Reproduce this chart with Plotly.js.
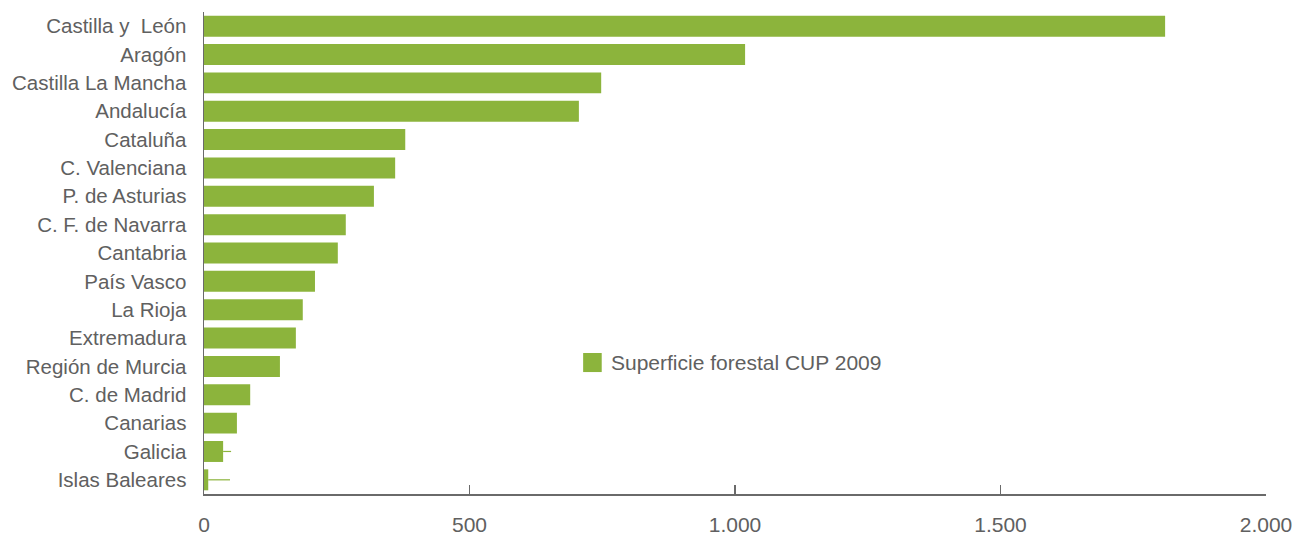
<!DOCTYPE html>
<html>
<head>
<meta charset="utf-8">
<script src="https://cdn.plot.ly/plotly-3.0.1.min.js"></script>
<style>html,body{margin:0;padding:0;background:#fff;}#chart{width:1309px;height:535px;}</style>
</head>
<body>
<div id="chart"></div>
<script>
const regions = ["Castilla y  León","Aragón","Castilla La Mancha","Andalucía","Cataluña","C. Valenciana","P. de Asturias","C. F. de Navarra","Cantabria","País Vasco","La Rioja","Extremadura","Región de Murcia","C. de Madrid","Canarias","Galicia","Islas Baleares"];
const superficie = [1810,1019,748,706,379,360,320,267,252,209,186,173,143,87,62,36,8];
const extension = [0,0,0,0,0,0,0,0,0,0,0,0,0,0,0,15,41];
const seriesName = "Superficie forestal CUP 2009";
const xTicks = [0,500,1000,1500,2000];

const green = "#8cb43c";
const textColor = "#606060";
const font = "Liberation Sans, Arial, sans-serif";

const trace = {
  type: "bar",
  orientation: "h",
  name: seriesName,
  y: regions,
  x: superficie,
  marker: {color: green},
  width: 0.74,
  error_x: {type: "data", symmetric: false, array: extension, arrayminus: extension.map(() => 0), width: 0, thickness: 1.2, color: green},
  showlegend: false,
  hoverinfo: "x+y"
};

const layout = {
  width: 1309, height: 535,
  margin: {l: 204, r: 43, t: 12, b: 41},
  paper_bgcolor: "#fff", plot_bgcolor: "#fff",
  separators: ",.",
  font: {family: font, color: textColor, size: 20.5},
  xaxis: {
    range: [0, 2000], tickvals: xTicks, tickformat: ",",
    showgrid: false, zeroline: false,
    showline: true, linecolor: "#6a6a6a", linewidth: 1.5,
    ticks: "inside", ticklen: 9, tickwidth: 1.5, tickcolor: "#6a6a6a",
    tickfont: {size: 21, color: textColor, family: font},
    ticklabelstandoff: 11
  },
  yaxis: {
    type: "category", autorange: false, range: [16.5, -0.5],
    showgrid: false, zeroline: false,
    showline: true, linecolor: "#6a6a6a", linewidth: 1.5,
    ticks: "", tickfont: {size: 20.5, color: textColor, family: font},
    ticklabelstandoff: 12
  },
  shapes: [{
    type: "rect", xref: "paper", yref: "paper",
    x0: 0.357, x1: 0.3745, y0: 0.253, y1: 0.2925,
    fillcolor: green, line: {width: 0}
  }],
  annotations: [{
    xref: "paper", yref: "paper", x: 0.381, y: 0.273,
    xanchor: "left", yanchor: "middle", showarrow: false,
    text: seriesName, font: {size: 21, color: textColor, family: font}
  }]
};

Plotly.newPlot("chart", [trace], layout, {displayModeBar: false, staticPlot: true});
</script>
</body>
</html>
